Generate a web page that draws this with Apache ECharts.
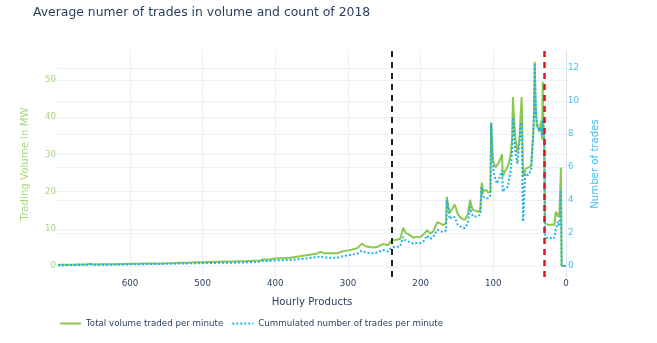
<!DOCTYPE html>
<html>
<head>
<meta charset="utf-8">
<script src="https://cdn.jsdelivr.net/npm/echarts@6/dist/echarts.min.js"></script>
<style>html,body{margin:0;padding:0;background:#fff;}#chart{width:657px;height:343px;}</style>
</head>
<body>
<div id="chart"></div>
<script>
const titleText = 'Average numer of trades in volume and count of 2018';
const xAxisTitle = 'Hourly Products';
const leftAxisTitle = 'Trading Volume in MW';
const rightAxisTitle = 'Number of trades';
const seriesNames = ['Total volume traded per minute', 'Cummulated number of trades per minute'];
const markerMinutes = [240, 30];

const minutes = [
  699, 690, 680, 670, 660, 655, 650, 640, 630, 620,
  610, 600, 598, 590, 580, 570, 560, 550, 540, 530,
  520, 510, 500, 490, 480, 470, 460, 450, 440, 430,
  420, 417, 410, 400, 390, 380, 370, 360, 350, 343,
  338, 332, 325, 315, 308, 300, 295, 287, 281, 276,
  270, 265, 259, 252, 245, 240, 235, 228, 224, 221,
  215, 210, 205, 201, 196, 191, 187, 183, 177, 172,
  169, 165, 164, 162, 160, 156, 153, 149, 146, 142,
  139, 135, 132, 130, 128, 124, 121, 118, 116, 114,
  110, 107, 104, 103, 101, 100, 97, 95, 92, 88,
  87, 84, 80, 76, 74, 73, 71, 70, 67, 64,
  63, 61, 59, 57, 56, 52, 48, 47, 45, 44,
  43, 42, 41, 40, 38, 37, 35, 34, 33, 32,
  31, 30, 29, 27, 25, 22, 19, 16, 14, 12,
  11, 9, 7, 6, 3, 0
];

const volumeMW = [
  0.3, 0.3, 0.35, 0.4, 0.4, 0.6, 0.4, 0.45, 0.5, 0.5,
  0.55, 0.6, 0.9, 0.6, 0.65, 0.7, 0.7, 0.75, 0.8, 0.9,
  0.9, 1.0, 1.0, 1.1, 1.15, 1.2, 1.2, 1.25, 1.3, 1.4,
  1.5, 1.8, 1.7, 2.0, 2.1, 2.2, 2.5, 2.8, 3.1, 3.3,
  3.8, 3.4, 3.4, 3.4, 3.9, 4.2, 4.4, 4.8, 6.0, 5.3,
  5.1, 5.0, 5.2, 5.9, 5.6, 6.9, 7.0, 7.3, 10.3, 9.0,
  8.3, 7.6, 7.9, 7.7, 8.5, 9.6, 8.8, 9.2, 11.8, 11.3,
  11.0, 11.5, 18.6, 16.0, 14.3, 15.5, 16.5, 14.0, 13.2, 12.6,
  12.4, 14.0, 17.8, 16.0, 15.1, 14.8, 14.6, 15.0, 22.4, 20.0,
  20.5, 19.7, 20.0, 38.6, 30.0, 28.1, 26.5, 26.8, 28.0, 30.0,
  24.0, 25.5, 26.8, 30.0, 34.9, 45.4, 38.0, 35.0, 30.5, 34.0,
  38.6, 45.4, 24.0, 25.0, 26.0, 26.5, 26.8, 30.0, 36.0, 41.4,
  54.9, 45.0, 40.3, 37.6, 37.0, 36.0, 38.0, 39.0, 34.0, 49.5,
  38.0, 34.0, 11.5, 11.0, 11.1, 11.0, 11.2, 11.0, 14.6, 14.0,
  13.2, 14.0, 26.5, 0, 0, 0
];

const tradeCount = [
  0.05, 0.05, 0.06, 0.07, 0.07, 0.1, 0.07, 0.08, 0.08, 0.09,
  0.09, 0.1, 0.15, 0.1, 0.11, 0.12, 0.12, 0.13, 0.14, 0.15,
  0.15, 0.17, 0.17, 0.18, 0.19, 0.2, 0.2, 0.21, 0.22, 0.24,
  0.26, 0.32, 0.3, 0.33, 0.35, 0.37, 0.4, 0.45, 0.5, 0.53,
  0.58, 0.52, 0.5, 0.5, 0.58, 0.65, 0.68, 0.75, 0.93, 0.82,
  0.78, 0.77, 0.82, 0.97, 0.88, 1.12, 1.15, 1.2, 1.76, 1.55,
  1.45, 1.35, 1.4, 1.38, 1.5, 1.85, 1.65, 1.72, 2.2, 2.1,
  2.06, 2.15, 4.0, 3.5, 2.85, 3.0, 2.95, 2.5, 2.4, 2.3,
  2.3, 2.6, 3.6, 3.2, 3.0, 3.0, 3.05, 3.1, 4.8, 4.2,
  4.1, 4.1, 4.3, 8.67, 6.5, 5.8, 5.2, 5.0, 5.3, 5.8,
  4.5, 4.7, 4.8, 5.8, 7.2, 9.0, 7.8, 7.0, 6.2, 7.5,
  8.4, 8.7, 2.7, 4.8, 5.6, 5.5, 5.8, 6.5, 8.06, 9.3,
  12.3, 10.2, 9.0, 8.7, 8.4, 8.2, 8.4, 8.5, 7.9, 8.85,
  8.3, 7.5, 1.6, 1.7, 1.75, 1.7, 1.75, 1.7, 2.2, 2.5,
  2.7, 2.4, 4.7, 0, 0, 0
];

const FONT = 'DejaVu Sans';
const GREEN = '#8cc84f';
const GREEN_TXT = '#a6d67c';
const BLUE = '#1db2ea';
const BLUE_TXT = '#3fbff0';
const GRID = '#ebf0f8';
const TXT = '#2a3f5f';

const chart = echarts.init(document.getElementById('chart'), null, {renderer: 'canvas'});
chart.setOption({
  animation: false,
  backgroundColor: '#fff',
  textStyle: {fontFamily: FONT},
  title: {
    text: titleText, left: 28, top: 2,
    textStyle: {fontFamily: FONT, fontSize: 12.4, fontWeight: 'normal', color: TXT}
  },
  legend: {
    left: 54, top: 314, itemWidth: 21, itemHeight: 4, itemGap: 8,
    itemStyle: {opacity: 0},
    textStyle: {fontFamily: FONT, fontSize: 8.7, color: TXT},
    data: seriesNames
  },
  grid: {left: 58, right: 91, top: 51, bottom: 66, containLabel: false},
  xAxis: {
    type: 'value', inverse: true, min: 0, max: 699, minInterval: 100, maxInterval: 100,
    name: xAxisTitle, nameLocation: 'middle', nameGap: 20,
    nameTextStyle: {fontFamily: FONT, fontSize: 10.2, color: TXT},
    axisLine: {show: false}, axisTick: {show: false},
    axisLabel: {fontFamily: FONT, fontSize: 8.7, color: TXT, margin: 2, showMaxLabel: false},
    splitLine: {show: true, showMaxLine: false, lineStyle: {color: GRID, width: 1}}
  },
  yAxis: [
    {
      type: 'value', position: 'left', min: -2.96, max: 57.8, minInterval: 10, maxInterval: 10,
      name: leftAxisTitle, nameLocation: 'middle', nameGap: 28,
      nameTextStyle: {fontFamily: FONT, fontSize: 10.2, color: GREEN_TXT},
      axisLine: {show: false}, axisTick: {show: false},
      axisLabel: {fontFamily: FONT, fontSize: 8.7, color: GREEN_TXT, margin: 2, showMinLabel: false, showMaxLabel: false},
      splitLine: {show: true, showMinLine: false, showMaxLine: false, lineStyle: {color: GRID, width: 1}}
    },
    {
      type: 'value', position: 'right', min: -0.667, max: 13.03, minInterval: 2, maxInterval: 2,
      name: rightAxisTitle, nameLocation: 'middle', nameGap: 22,
      nameTextStyle: {fontFamily: FONT, fontSize: 10.2, color: BLUE_TXT},
      axisLine: {show: true, onZero: false, lineStyle: {color: '#dde5ef', width: 1}}, axisTick: {show: false},
      axisLabel: {fontFamily: FONT, fontSize: 8.7, color: BLUE_TXT, margin: 2, showMinLabel: false, showMaxLabel: false},
      splitLine: {show: true, showMinLine: false, showMaxLine: false, lineStyle: {color: GRID, width: 1}}
    }
  ],
  series: [
    {
      name: seriesNames[0], type: 'line', yAxisIndex: 0, symbol: 'none', showSymbol: false,
      lineStyle: {color: GREEN, width: 2}, itemStyle: {color: GREEN},
      data: minutes.map((m, i) => [m, volumeMW[i]]),
      z: 2,
      markLine: {
        silent: true, symbol: ['none', 'none'], label: {show: false},
        data: [
          {xAxis: markerMinutes[0], lineStyle: {color: '#222', width: 2, type: [6, 5]}},
          {xAxis: markerMinutes[1], lineStyle: {color: '#e8121c', width: 2.5, type: [6, 5]}}
        ]
      }
    },
    {
      name: seriesNames[1], type: 'line', yAxisIndex: 1, symbol: 'none', showSymbol: false,
      lineStyle: {color: BLUE, width: 2, type: [2, 2]}, itemStyle: {color: BLUE},
      data: minutes.map((m, i) => [m, tradeCount[i]]),
      z: 3
    }
  ]
});
</script>
</body>
</html>
